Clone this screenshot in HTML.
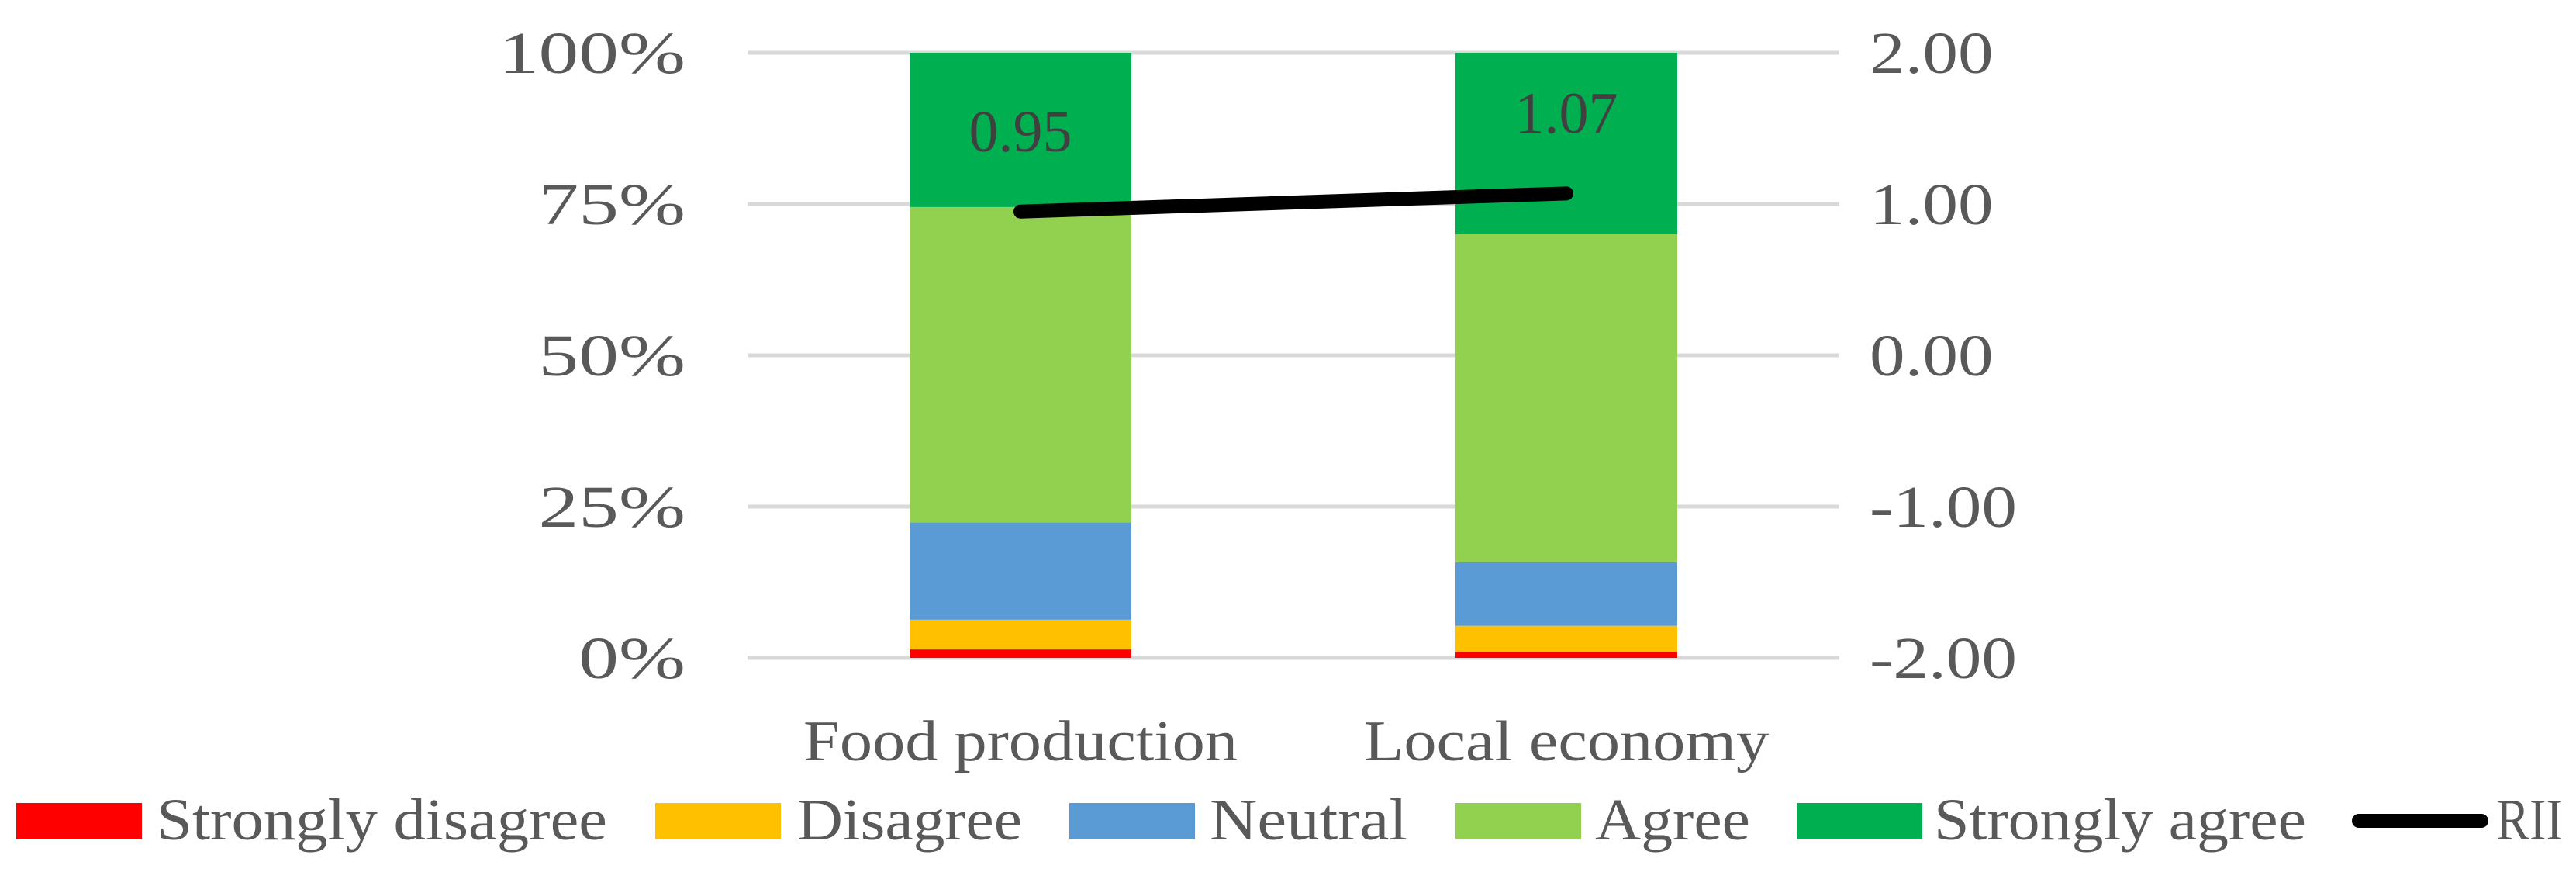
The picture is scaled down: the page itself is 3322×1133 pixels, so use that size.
<!DOCTYPE html>
<html><head><meta charset="utf-8"><style>html,body{margin:0;padding:0;background:#fff}svg{display:block}</style></head>
<body>
<svg id="chart" width="3322" height="1133" viewBox="0 0 3322 1133" font-family="'Liberation Serif', serif">
<g id="grid"></g><g id="bars"></g><g id="line"></g><g id="axes"></g><g id="legend"></g>
</svg>
<script>
const categories = ["Food production", "Local economy"];
const seriesNames = ["Strongly disagree", "Disagree", "Neutral", "Agree", "Strongly agree"];
const seriesColors = ["#ff0000", "#ffc000", "#5b9bd5", "#92d050", "#00b050"];
const stronglyDisagree = [1.4, 1.0];
const disagree = [4.9, 4.3];
const neutral = [16.1, 10.5];
const agree = [52.1, 54.2];
const stronglyAgree = [25.5, 30.0];
const rii = [0.95, 1.07];
const leftTicks = ["0%", "25%", "50%", "75%", "100%"];
const rightTicks = ["-2.00", "-1.00", "0.00", "1.00", "2.00"];

const NS = "http://www.w3.org/2000/svg";
const plotTop = 68, plotBottom = 848, plotX0 = 964, plotX1 = 2372;
const yPct = v => plotBottom - v / 100 * (plotBottom - plotTop);
const yR = v => plotBottom - (v + 2) / 4 * (plotBottom - plotTop);
const band = (plotX1 - plotX0) / categories.length;
const xC = i => plotX0 + band * (i + 0.5);
const barW = 286;
function mk(tag, attrs, parent, txt) {
  const e = document.createElementNS(NS, tag);
  for (const k in attrs) e.setAttribute(k, attrs[k]);
  if (txt !== undefined) e.textContent = txt;
  document.getElementById(parent).appendChild(e);
  return e;
}
function stretch(el, f) {
  const w = el.getComputedTextLength();
  el.setAttribute('textLength', w * f);
  el.setAttribute('lengthAdjust', 'spacingAndGlyphs');
}
leftTicks.forEach((t, i) => {
  const y = plotTop + (plotBottom - plotTop) * (1 - i / 4);
  const g = mk('line', {x1: plotX0, x2: plotX1, y1: y, y2: y, stroke: '#d9d9d9', 'stroke-width': 5}, 'grid');
  
  
  const l = mk('text', {x: 884, y: y + 26, 'text-anchor': 'end', 'font-size': 76, fill: '#595959'}, 'axes', t);
  
  
  stretch(l, 1.36);
  const r = mk('text', {x: 2411, y: y + 26, 'font-size': 76, fill: '#595959'}, 'axes', rightTicks[i]);
  
  
  stretch(r, 1.2);
});
const series = [stronglyDisagree, disagree, neutral, agree, stronglyAgree];
categories.forEach((c, i) => {
  let cum = 0;
  series.forEach((s, k) => {
    const y2 = yPct(cum); cum += s[i]; const y1 = yPct(cum);
    const r = mk('rect', {x: xC(i) - barW / 2, y: y1, width: barW, height: y2 - y1, fill: seriesColors[k]}, 'bars');
    
    
  });
  const cl = mk('text', {x: xC(i), y: 980, 'text-anchor': 'middle', 'font-size': 74, fill: '#595959'}, 'axes', c);
  
  
  stretch(cl, 1.14);
});
const pl = mk('polyline', {points: rii.map((v, i) => xC(i) + ',' + yR(v)).join(' '), fill: 'none', stroke: '#000', 'stroke-width': 18, 'stroke-linecap': 'round'}, 'line');


rii.forEach((v, i) => {
  const t = mk('text', {x: xC(i), y: yR(v) - 78, 'text-anchor': 'middle', 'font-size': 76, fill: '#404040'}, 'line', v.toFixed(2));
  
  
});
const legSw = [21, 845, 1379, 1877, 2317];
const legTx = [[202, 581], [1028, 290], [1560, 255], [2057, 200], [2494, 480]];
seriesNames.forEach((n, k) => {
  const s = mk('rect', {x: legSw[k], y: 1035, width: 162, height: 47, fill: seriesColors[k]}, 'legend');
  
  
  const t = mk('text', {x: legTx[k][0], y: 1082, 'font-size': 76, fill: '#595959', textLength: legTx[k][1], lengthAdjust: 'spacingAndGlyphs'}, 'legend', n);
  
  
});
const ll = mk('line', {x1: 3042, x2: 3200, y1: 1058, y2: 1058, stroke: '#000', 'stroke-width': 18, 'stroke-linecap': 'round'}, 'legend');


const lt = mk('text', {x: 3219, y: 1082, 'font-size': 76, fill: '#595959', textLength: 86, lengthAdjust: 'spacingAndGlyphs'}, 'legend', 'RII');


</script>
</body></html>
